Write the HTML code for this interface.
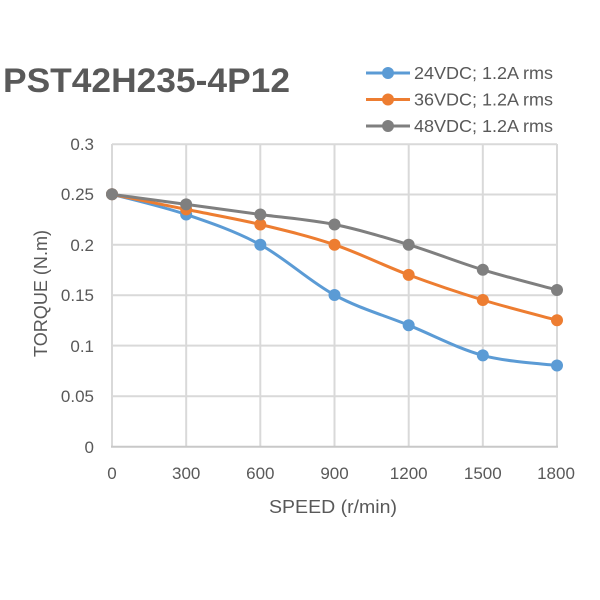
<!DOCTYPE html>
<html>
<head>
<meta charset="utf-8">
<style>
html,body{margin:0;padding:0;background:#fff;}
svg{display:block;}
text{font-family:"Liberation Sans",sans-serif;fill:#595959;}
</style>
</head>
<body>
<svg width="600" height="600" viewBox="0 0 600 600" xmlns="http://www.w3.org/2000/svg">
  <rect width="600" height="600" fill="#fff"/>
  <!-- title -->
  <text x="3" y="92" font-size="34" font-weight="bold" textLength="287" lengthAdjust="spacingAndGlyphs">PST42H235-4P12</text>

  <!-- grid -->
  <g stroke="#d9d9d9" stroke-width="2" fill="none">
    <line x1="112" y1="144.3" x2="557" y2="144.3"/>
    <line x1="112" y1="194.5" x2="557" y2="194.5"/>
    <line x1="112" y1="244.8" x2="557" y2="244.8"/>
    <line x1="112" y1="295.2" x2="557" y2="295.2"/>
    <line x1="112" y1="345.6" x2="557" y2="345.6"/>
    <line x1="112" y1="396.2" x2="557" y2="396.2"/>
    <line x1="112" y1="144" x2="112" y2="447"/>
    <line x1="186.2" y1="144" x2="186.2" y2="447"/>
    <line x1="260.3" y1="144" x2="260.3" y2="447"/>
    <line x1="334.5" y1="144" x2="334.5" y2="447"/>
    <line x1="408.7" y1="144" x2="408.7" y2="447"/>
    <line x1="482.8" y1="144" x2="482.8" y2="447"/>
    <line x1="557" y1="144" x2="557" y2="447"/>
  </g>
  <line x1="111" y1="446.8" x2="558" y2="446.8" stroke="#c8c8c8" stroke-width="2"/>

  <!-- y tick labels -->
  <g font-size="17" text-anchor="end">
    <text x="94" y="150">0.3</text>
    <text x="94" y="200">0.25</text>
    <text x="94" y="251">0.2</text>
    <text x="94" y="301">0.15</text>
    <text x="94" y="352">0.1</text>
    <text x="94" y="402">0.05</text>
    <text x="94" y="453">0</text>
  </g>
  <!-- x tick labels -->
  <g font-size="17" text-anchor="middle">
    <text x="112" y="479">0</text>
    <text x="186.2" y="479">300</text>
    <text x="260.3" y="479">600</text>
    <text x="334.5" y="479">900</text>
    <text x="408.7" y="479">1200</text>
    <text x="482.8" y="479">1500</text>
    <text x="556" y="479">1800</text>
  </g>
  <!-- axis titles -->
  <text x="333" y="513" font-size="18.5" text-anchor="middle" textLength="128" lengthAdjust="spacingAndGlyphs">SPEED (r/min)</text>
  <text transform="translate(47,293.5) rotate(-90)" x="0" y="0" font-size="18" text-anchor="middle" textLength="127" lengthAdjust="spacingAndGlyphs">TORQUE (N.m)</text>

  <!-- series: blue -->
  <path d="M112,194.3 C124.36,197.67 161.45,206.1 186.17,214.5 C210.89,222.9 235.61,231.28 260.33,244.7 C285.05,258.12 309.78,281.58 334.5,295 C359.22,308.42 383.95,315.13 408.67,325.2 C433.39,335.27 458.11,348.68 482.83,355.4 C507.55,362.12 544.64,363.82 557,365.5" fill="none" stroke="#5b9bd5" stroke-width="3" stroke-linecap="round"/>
  <g fill="#5b9bd5">
    <circle cx="112" cy="194.3" r="6"/>
    <circle cx="186.17" cy="214.5" r="6"/>
    <circle cx="260.33" cy="244.7" r="6"/>
    <circle cx="334.5" cy="295" r="6"/>
    <circle cx="408.67" cy="325.2" r="6"/>
    <circle cx="482.83" cy="355.4" r="6"/>
    <circle cx="557" cy="365.5" r="6"/>
  </g>

  <!-- series: orange -->
  <path d="M112,194.3 C124.36,196.82 161.45,204.37 186.17,209.4 C210.89,214.43 235.61,218.62 260.33,224.5 C285.05,230.38 309.78,236.3 334.5,244.7 C359.22,253.1 383.95,265.68 408.67,274.9 C433.39,284.12 458.11,292.45 482.83,300 C507.55,307.55 544.64,316.83 557,320.2" fill="none" stroke="#ed7d31" stroke-width="3" stroke-linecap="round"/>
  <g fill="#ed7d31">
    <circle cx="112" cy="194.3" r="6"/>
    <circle cx="186.17" cy="209.4" r="6"/>
    <circle cx="260.33" cy="224.5" r="6"/>
    <circle cx="334.5" cy="244.7" r="6"/>
    <circle cx="408.67" cy="274.9" r="6"/>
    <circle cx="482.83" cy="300" r="6"/>
    <circle cx="557" cy="320.2" r="6"/>
  </g>

  <!-- series: gray -->
  <path d="M112,194.3 C124.36,195.98 161.45,201.03 186.17,204.4 C210.89,207.77 235.61,211.15 260.33,214.5 C285.05,217.85 309.78,219.47 334.5,224.5 C359.22,229.53 383.95,237.15 408.67,244.7 C433.39,252.25 458.11,262.25 482.83,269.8 C507.55,277.35 544.64,286.63 557,290" fill="none" stroke="#7f7f7f" stroke-width="3" stroke-linecap="round"/>
  <g fill="#7f7f7f">
    <circle cx="112" cy="194.3" r="6"/>
    <circle cx="186.17" cy="204.4" r="6"/>
    <circle cx="260.33" cy="214.5" r="6"/>
    <circle cx="334.5" cy="224.5" r="6"/>
    <circle cx="408.67" cy="244.7" r="6"/>
    <circle cx="482.83" cy="269.8" r="6"/>
    <circle cx="557" cy="290" r="6"/>
  </g>

  <!-- legend -->
  <g stroke-width="3">
    <line x1="366" y1="73" x2="410" y2="73" stroke="#5b9bd5"/>
    <line x1="366" y1="99.5" x2="410" y2="99.5" stroke="#ed7d31"/>
    <line x1="366" y1="126" x2="410" y2="126" stroke="#7f7f7f"/>
  </g>
  <circle cx="388" cy="73" r="6" fill="#5b9bd5"/>
  <circle cx="388" cy="99.5" r="6" fill="#ed7d31"/>
  <circle cx="388" cy="126" r="6" fill="#7f7f7f"/>
  <g font-size="17.5">
    <text x="414" y="79" textLength="139" lengthAdjust="spacingAndGlyphs">24VDC; 1.2A rms</text>
    <text x="414" y="105.5" textLength="139" lengthAdjust="spacingAndGlyphs">36VDC; 1.2A rms</text>
    <text x="414" y="132" textLength="139" lengthAdjust="spacingAndGlyphs">48VDC; 1.2A rms</text>
  </g>
</svg>
</body>
</html>
